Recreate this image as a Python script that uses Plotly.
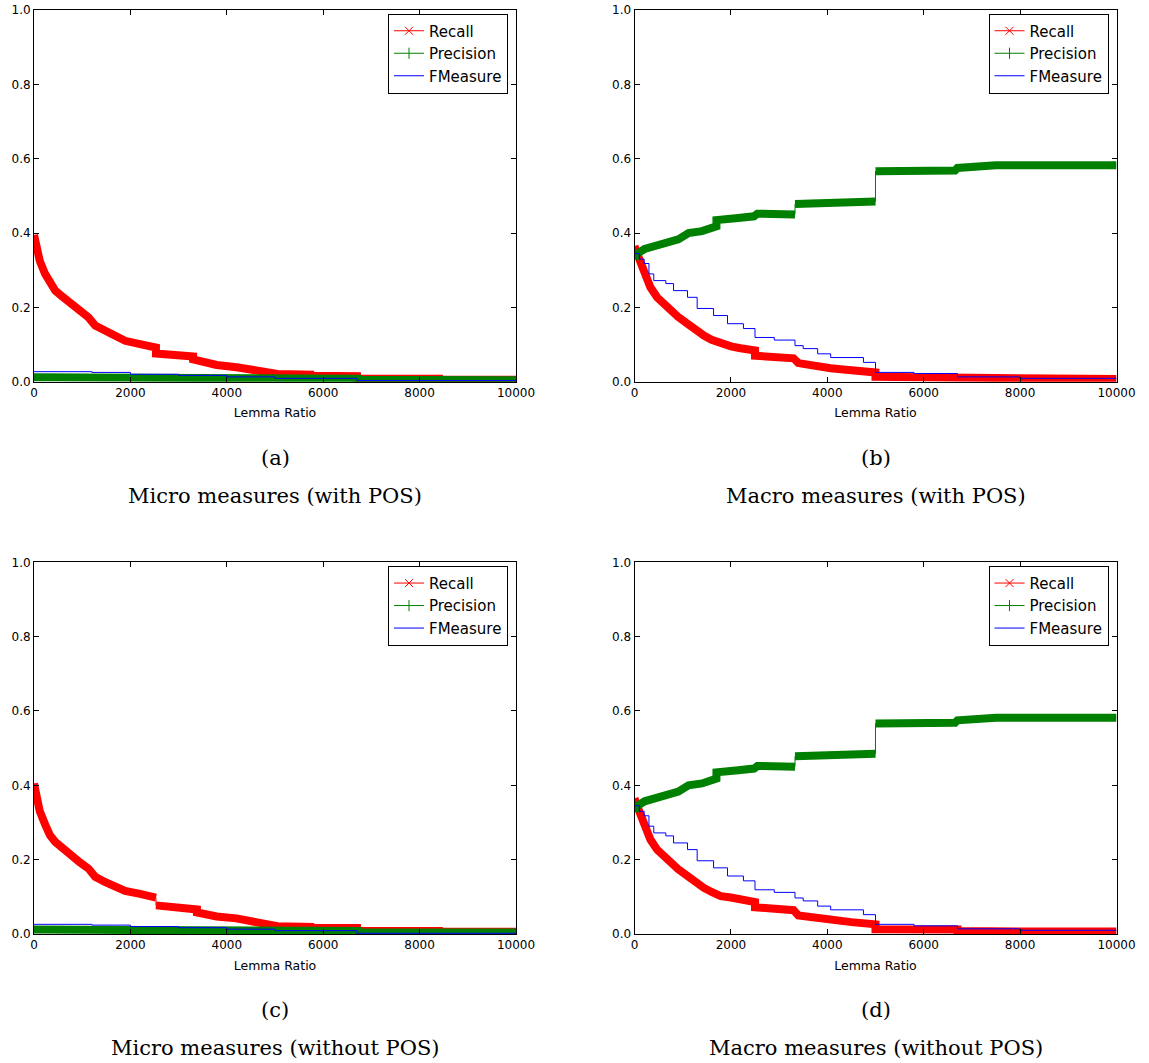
import plotly.graph_objects as go

W, H = 1149, 1063

# ---------------- data ----------------
# Panel (a): Micro measures (with POS)
a_recall_x = [0, 50, 120, 230, 330, 440, 570, 750, 950, 1130, 1270, 1470, 1710, 1890, 2200, 2530, 2530, 3300, 3300, 3790, 4200, 4620, 5000, 5050, 5730, 5730, 6700, 6700, 8400, 8400, 10000]
a_recall_y = [0.395, 0.36, 0.325, 0.29, 0.263, 0.245, 0.231, 0.213, 0.191, 0.173, 0.151, 0.137, 0.124, 0.11, 0.101, 0.092, 0.076, 0.068, 0.06, 0.045, 0.039, 0.031, 0.024, 0.021, 0.019, 0.016, 0.015, 0.008, 0.008, 0.005, 0.005]
a_prec_x = [0, 1200, 2400, 4000, 5000, 6700, 6700, 10000]
a_prec_y = [0.012, 0.012, 0.011, 0.010, 0.009, 0.008, 0.005, 0.004]
a_f_x = [0, 1200, 2000, 3000, 4000, 5000, 6700, 10000]
a_f_y = [0.027, 0.025, 0.020, 0.017, 0.013, 0.009, 0.003, 0.003]

# Panel (b): Macro measures (with POS)
b_recall_x = [0, 30, 100, 190, 330, 470, 600, 750, 900, 1100, 1250, 1440, 1600, 1790, 2000, 2200, 2500, 2500, 3300, 3400, 3700, 4070, 4500, 5000, 5000, 6700, 6700, 8000, 10000]
b_recall_y = [0.365, 0.35, 0.33, 0.30, 0.254, 0.227, 0.21, 0.19, 0.175, 0.156, 0.14, 0.124, 0.113, 0.102, 0.095, 0.09, 0.084, 0.07, 0.063, 0.05, 0.043, 0.036, 0.031, 0.025, 0.013, 0.012, 0.008, 0.007, 0.007]
b_prec_x = [0, 60, 210, 350, 560, 700, 910, 1120, 1400, 1700, 1700, 2100, 2480, 2550, 3330, 3330, 4210, 5000, 5000, 6650, 6700, 6950, 7500, 10000]
b_prec_y = [0.33, 0.345, 0.357, 0.362, 0.365, 0.372, 0.383, 0.40, 0.405, 0.418, 0.435, 0.44, 0.445, 0.452, 0.45, 0.478, 0.482, 0.485, 0.566, 0.568, 0.575, 0.578, 0.582, 0.582]
b_f_x = [0, 100, 200, 300, 400, 650, 810, 1100, 1300, 1640, 1930, 2260, 2500, 2900, 3330, 3500, 3800, 4070, 4750, 5000, 5800, 6700, 8000, 10000]
b_f_y = [0.345, 0.33, 0.318, 0.29, 0.272, 0.264, 0.245, 0.227, 0.197, 0.178, 0.156, 0.143, 0.119, 0.112, 0.097, 0.089, 0.075, 0.065, 0.052, 0.025, 0.022, 0.013, 0.009, 0.009]

# Panel (c): Micro measures (without POS)
c_recall_x = [0, 50, 120, 230, 330, 440, 570, 750, 950, 1130, 1270, 1470, 1710, 1890, 2200, 2530, 2530, 3380, 3380, 3790, 4200, 4620, 5000, 5050, 5730, 5730, 6700, 6700, 8400, 8400, 10000]
c_recall_y = [0.405, 0.37, 0.33, 0.295, 0.266, 0.248, 0.233, 0.215, 0.193, 0.176, 0.154, 0.14, 0.127, 0.116, 0.108, 0.098, 0.077, 0.066, 0.058, 0.047, 0.042, 0.034, 0.024, 0.021, 0.019, 0.017, 0.016, 0.008, 0.008, 0.006, 0.006]
c_prec_x = [0, 1200, 2400, 4000, 5000, 6700, 6700, 10000]
c_prec_y = [0.012, 0.012, 0.011, 0.010, 0.009, 0.008, 0.005, 0.004]
c_f_x = [0, 1200, 2000, 3000, 4000, 5000, 6700, 10000]
c_f_y = [0.026, 0.024, 0.020, 0.017, 0.013, 0.009, 0.002, 0.002]

# Panel (d): Macro measures (without POS)
d_recall_x = [0, 30, 100, 190, 330, 470, 600, 750, 900, 1100, 1250, 1440, 1600, 1790, 2000, 2200, 2500, 2500, 3300, 3400, 3700, 4070, 4500, 5000, 5000, 6700, 6700, 8000, 10000]
d_recall_y = [0.365, 0.35, 0.33, 0.30, 0.254, 0.227, 0.21, 0.19, 0.175, 0.156, 0.14, 0.124, 0.113, 0.102, 0.098, 0.092, 0.086, 0.072, 0.064, 0.05, 0.044, 0.038, 0.032, 0.026, 0.013, 0.012, 0.008, 0.007, 0.007]
d_prec_x = [0, 60, 210, 350, 560, 700, 910, 1120, 1400, 1700, 1700, 2100, 2480, 2550, 3330, 3330, 4210, 5000, 5000, 6650, 6700, 6950, 7500, 10000]
d_prec_y = [0.33, 0.345, 0.357, 0.362, 0.365, 0.372, 0.383, 0.40, 0.405, 0.418, 0.435, 0.44, 0.445, 0.452, 0.45, 0.478, 0.482, 0.485, 0.566, 0.568, 0.575, 0.578, 0.582, 0.582]
d_f_x = [0, 100, 200, 300, 400, 650, 810, 1100, 1300, 1640, 1930, 2260, 2500, 2900, 3330, 3500, 3800, 4070, 4750, 5000, 5800, 6700, 8000, 10000]
d_f_y = [0.345, 0.33, 0.318, 0.29, 0.272, 0.264, 0.245, 0.227, 0.197, 0.178, 0.156, 0.143, 0.119, 0.112, 0.097, 0.089, 0.075, 0.065, 0.052, 0.026, 0.022, 0.014, 0.01, 0.01]

x_ticks = [0, 2000, 4000, 6000, 8000, 10000]
y_ticks = [0.0, 0.2, 0.4, 0.6, 0.8, 1.0]
series_names = ["Recall", "Precision", "FMeasure"]
panel_letters = ["(a)", "(b)", "(c)", "(d)"]
panel_captions = ["Micro measures (with POS)", "Macro measures (with POS)",
                  "Micro measures (without POS)", "Macro measures (without POS)"]
x_label = "Lemma Ratio"

panels = [
    (a_recall_x, a_recall_y, a_prec_x, a_prec_y, a_f_x, a_f_y),
    (b_recall_x, b_recall_y, b_prec_x, b_prec_y, b_f_x, b_f_y),
    (c_recall_x, c_recall_y, c_prec_x, c_prec_y, c_f_x, c_f_y),
    (d_recall_x, d_recall_y, d_prec_x, d_prec_y, d_f_x, d_f_y),
]

# ---------------- layout geometry (pixels) ----------------
ax_left = [34, 634.5, 34, 634.5]
ax_right = [516, 1116.5, 516, 1116.5]
ax_top = [10, 10, 562.3, 562.3]
ax_bottom = [381.7, 381.7, 934, 934]

RED, GREEN, BLUE = "#ff0000", "#008000", "#0000ff"
BAND = 8


def band(xs, ys, thresh=0.02):
    """Split a series into dense-marker bands, breaking at large vertical jumps."""
    bx, by = [xs[0]], [ys[0]]
    for i in range(1, len(xs)):
        if xs[i] == xs[i - 1] and abs(ys[i] - ys[i - 1]) > thresh:
            bx.append(None)
            by.append(None)
        bx.append(xs[i])
        by.append(ys[i])
    return bx, by


fig = go.Figure()
layout = {}
annotations = []

for k, (rx, ry, px, py, fx, fy) in enumerate(panels):
    n = "" if k == 0 else str(k + 1)
    xa, ya = "x" + n, "y" + n
    lg = "legend" + n

    # Recall
    bx, by = band(rx, ry)
    fig.add_trace(go.Scatter(x=bx, y=by, mode="lines", line=dict(color=RED, width=BAND),
                             xaxis=xa, yaxis=ya, showlegend=False, hoverinfo="skip"))
    fig.add_trace(go.Scatter(x=rx, y=ry, mode="lines", line=dict(color=RED, width=1),
                             xaxis=xa, yaxis=ya, showlegend=False, name=series_names[0]))
    # Precision
    bx, by = band(px, py)
    fig.add_trace(go.Scatter(x=bx, y=by, mode="lines", line=dict(color=GREEN, width=BAND),
                             xaxis=xa, yaxis=ya, showlegend=False, hoverinfo="skip"))
    fig.add_trace(go.Scatter(x=px, y=py, mode="lines", line=dict(color=GREEN, width=1),
                             xaxis=xa, yaxis=ya, showlegend=False, name=series_names[1]))
    # FMeasure
    fig.add_trace(go.Scatter(x=fx, y=fy, mode="lines", line=dict(color=BLUE, width=1, shape="hv"),
                             xaxis=xa, yaxis=ya, showlegend=False, name=series_names[2]))

    # legend entries
    fig.add_trace(go.Scatter(x=[None], y=[None], mode="lines+markers", name=series_names[0],
                             line=dict(color=RED, width=1),
                             marker=dict(symbol="x-thin", size=8, color=RED,
                                         line=dict(color=RED, width=1)),
                             xaxis=xa, yaxis=ya, legend=lg))
    fig.add_trace(go.Scatter(x=[None], y=[None], mode="lines+markers", name=series_names[1],
                             line=dict(color=GREEN, width=1),
                             marker=dict(symbol="line-ns", size=8, color=GREEN,
                                         line=dict(color=GREEN, width=1)),
                             xaxis=xa, yaxis=ya, legend=lg))
    fig.add_trace(go.Scatter(x=[None], y=[None], mode="lines", name=series_names[2],
                             line=dict(color=BLUE, width=1),
                             xaxis=xa, yaxis=ya, legend=lg))

    xd = [ax_left[k] / W, ax_right[k] / W]
    yd = [1 - ax_bottom[k] / H, 1 - ax_top[k] / H]
    common = dict(showline=True, linecolor="black", linewidth=1, mirror="ticks",
                  ticks="inside", ticklen=5, tickcolor="black", showgrid=False, zeroline=False,
                  automargin=False,
                  tickfont=dict(family="DejaVu Sans", size=12, color="black"))
    layout["xaxis" + n] = dict(domain=xd, range=[0, 10000], tickvals=x_ticks,
                               ticktext=[str(v) for v in x_ticks], anchor=ya,
                               title=dict(text=x_label, standoff=9,
                                          font=dict(family="DejaVu Sans", size=12.5, color="black")),
                               **common)
    layout["yaxis" + n] = dict(domain=yd, range=[0, 1], tickvals=y_ticks,
                               ticktext=["%.1f" % v for v in y_ticks], anchor=xa, **common)
    layout[lg] = dict(x=(ax_right[k] - 8) / W, y=1 - (ax_top[k] + 3.5) / H,
                      xanchor="right", yanchor="top", bgcolor="white",
                      bordercolor="black", borderwidth=1,
                      font=dict(family="DejaVu Sans", size=15, color="black"))

    cx = (ax_left[k] + ax_right[k]) / 2 / W
    annotations.append(dict(text=panel_letters[k], x=cx, y=1 - (ax_bottom[k] + 76) / H,
                            xref="paper", yref="paper", showarrow=False, xanchor="center",
                            yanchor="middle", font=dict(family="DejaVu Serif", size=21, color="black")))
    annotations.append(dict(text=panel_captions[k], x=cx, y=1 - (ax_bottom[k] + 114) / H,
                            xref="paper", yref="paper", showarrow=False, xanchor="center",
                            yanchor="middle", font=dict(family="DejaVu Serif", size=21, color="black")))

fig.update_layout(template="none", width=W, height=H, margin=dict(l=0, r=0, t=0, b=0, autoexpand=False),
                  paper_bgcolor="white", plot_bgcolor="white",
                  annotations=annotations, **layout)

fig.write_html("out.html")
